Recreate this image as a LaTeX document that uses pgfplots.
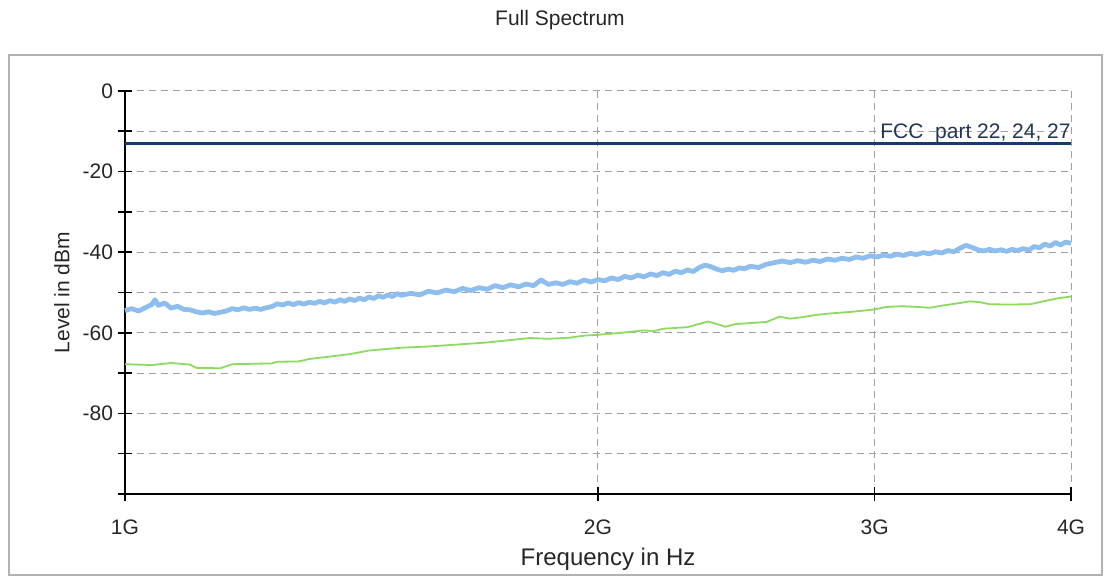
\documentclass[border=0pt]{standalone}
\usepackage{fontspec}
\setmainfont{Liberation Sans}
\usepackage{pgfplots}
\pgfplotsset{compat=1.18}

\definecolor{limitblue}{RGB}{20,60,108}
\definecolor{limittext}{RGB}{35,55,85}
\definecolor{peaktrace}{RGB}{142,190,238}
\definecolor{avgtrace}{RGB}{140,218,96}
\definecolor{framegray}{RGB}{178,178,178}
\definecolor{gridgray}{RGB}{160,160,160}

\begin{document}
\begin{tikzpicture}
% page area and outer frame
\path[use as bounding box] (0pt,0pt) rectangle (552pt,288pt);
\draw[framegray, line width=1pt] (4.5pt,0.5pt) rectangle (551pt,260.5pt);

\begin{axis}[
  at={(62.5pt,41pt)}, anchor=south west,
  scale only axis, width=473pt, height=201.5pt,
  xmode=log, xmin=1, xmax=4, ymin=-100, ymax=0,
  axis x line=bottom, axis y line=left,
  axis line style={-, black, line width=1pt},
  xtick={1,2,3,4}, xticklabels={1G,2G,3G,4G}, minor xtick={},
  ytick={-100,-90,...,0}, yticklabels={,,-80,,-60,,-40,,-20,,0},
  tick align=center, major tick length=7pt,
  tick style={black, line width=0.8pt},
  grid=major,
  major grid style={gridgray, line width=0.5pt, dash pattern=on 3.5pt off 2.5pt},
  tick label style={font=\fontsize{10.5}{12}\selectfont, text=black!85},
  xticklabel style={yshift=-6pt},
  yticklabel style={xshift=1pt},
  title={Full Spectrum},
  title style={at={(axis description cs:0.4598,1.1457)}, anchor=center,
    font=\fontsize{10.5}{12}\selectfont, text=black!85},
  xlabel={Frequency in Hz},
  xlabel style={at={(axis description cs:0.5106,-0.161)}, anchor=center,
    font=\fontsize{12}{14}\selectfont, text=black!85},
  ylabel={Level in dBm},
  ylabel style={at={(axis description cs:-0.0666,0.5)}, anchor=center,
    font=\fontsize{10.5}{12}\selectfont, text=black!85},
  clip=false,
]

% peak detector trace
\addplot[peaktrace, line width=2.4pt, line join=round] coordinates {
(1.00,-54.5) (1.01,-54.0) (1.02,-54.6) (1.03,-53.8) (1.04,-53.0) (1.045,-51.8)
(1.05,-53.2) (1.06,-52.6) (1.07,-53.9) (1.08,-53.4) (1.09,-54.2)
(1.10,-54.3) (1.11,-54.8) (1.12,-55.1) (1.13,-54.8) (1.14,-55.2) (1.15,-54.9)
(1.16,-54.6) (1.17,-54.0) (1.18,-54.3) (1.19,-53.8) (1.20,-54.2) (1.21,-53.9)
(1.22,-54.2) (1.23,-53.8) (1.24,-53.5) (1.25,-52.8) (1.26,-53.1) (1.27,-52.6)
(1.28,-53.0) (1.29,-52.5) (1.30,-52.9) (1.31,-52.4) (1.32,-52.7) (1.33,-52.2)
(1.34,-52.6) (1.35,-52.0) (1.36,-52.4) (1.37,-51.8) (1.38,-52.2) (1.39,-51.6)
(1.40,-52.0) (1.41,-51.4) (1.42,-51.8) (1.43,-51.1) (1.44,-51.5) (1.45,-50.8)
(1.46,-51.2) (1.47,-50.6) (1.48,-51.0) (1.49,-50.3) (1.50,-50.7)
(1.52,-50.2) (1.54,-50.6) (1.56,-49.7) (1.58,-50.1) (1.60,-49.4) (1.62,-49.8)
(1.64,-49.0) (1.66,-49.5) (1.68,-48.8) (1.70,-49.2) (1.72,-48.3) (1.74,-48.8)
(1.76,-48.1) (1.78,-48.6) (1.80,-47.9) (1.82,-48.3) (1.84,-46.9) (1.86,-48.0)
(1.88,-47.6) (1.90,-48.0) (1.92,-47.3) (1.94,-47.7) (1.96,-46.9) (1.98,-47.4)
(2.00,-46.8) (2.02,-47.1) (2.04,-46.4) (2.06,-46.8) (2.08,-46.0) (2.10,-46.4)
(2.12,-45.7) (2.14,-46.1) (2.16,-45.4) (2.18,-45.8) (2.20,-45.1) (2.22,-45.5)
(2.24,-44.7) (2.26,-45.1) (2.28,-44.4) (2.30,-44.8) (2.32,-43.8) (2.34,-43.2)
(2.36,-43.6) (2.38,-44.2) (2.40,-44.6) (2.42,-44.2) (2.44,-44.5) (2.46,-43.9)
(2.48,-44.1) (2.50,-43.5) (2.53,-43.8) (2.56,-43.0) (2.59,-42.6) (2.62,-42.2)
(2.65,-42.6) (2.68,-42.1) (2.71,-42.5) (2.74,-42.0) (2.77,-42.3) (2.80,-41.7)
(2.83,-42.0) (2.86,-41.5) (2.89,-41.8) (2.92,-41.2) (2.95,-41.5) (2.98,-40.9)
(3.01,-41.2) (3.04,-40.7) (3.07,-41.0) (3.10,-40.5) (3.13,-40.8) (3.16,-40.3)
(3.19,-40.6) (3.22,-40.1) (3.25,-40.4) (3.28,-39.9) (3.31,-40.2) (3.34,-39.6)
(3.37,-39.9) (3.40,-39.0) (3.43,-38.3) (3.46,-38.8) (3.49,-39.4) (3.52,-39.7)
(3.55,-39.3) (3.58,-39.7) (3.61,-39.4) (3.64,-39.8) (3.67,-39.3) (3.70,-39.6)
(3.73,-39.1) (3.76,-39.5) (3.79,-38.6) (3.82,-38.9) (3.85,-38.0) (3.88,-38.5)
(3.91,-37.6) (3.94,-38.2) (3.97,-37.5) (4.00,-37.8)
};

% average detector trace
\addplot[avgtrace, line width=0.9pt, line join=round] coordinates {
(1.00,-67.8) (1.04,-68.0) (1.07,-67.5) (1.10,-67.9) (1.11,-68.7) (1.15,-68.8)
(1.16,-68.3) (1.17,-67.8) (1.24,-67.6) (1.25,-67.2) (1.29,-67.1) (1.31,-66.5)
(1.35,-65.9) (1.39,-65.3) (1.43,-64.4) (1.50,-63.7) (1.56,-63.4) (1.63,-62.9)
(1.70,-62.4) (1.76,-61.8) (1.81,-61.3) (1.86,-61.5) (1.92,-61.2) (1.96,-60.7)
(2.00,-60.5) (2.07,-60.0) (2.14,-59.4) (2.17,-59.6) (2.20,-59.0) (2.28,-58.6)
(2.33,-57.6) (2.35,-57.2) (2.38,-57.8) (2.41,-58.5) (2.45,-57.8) (2.52,-57.5)
(2.56,-57.3) (2.61,-56.0) (2.65,-56.5) (2.70,-56.1) (2.75,-55.6) (2.81,-55.2)
(2.90,-54.8) (3.00,-54.2) (3.05,-53.6) (3.12,-53.4) (3.20,-53.6) (3.25,-53.8)
(3.32,-53.2) (3.40,-52.6) (3.45,-52.2) (3.50,-52.4) (3.55,-52.9) (3.65,-53.0)
(3.77,-52.9) (3.84,-52.2) (3.93,-51.4) (4.00,-51.0)
};

% limit line
\addplot[limitblue, line width=1.5pt] coordinates {(1,-13) (4,-13)};
\node[anchor=base east, inner sep=0pt, yshift=2.4pt, text=limittext,
  font=\fontsize{10.5}{12}\selectfont] at (axis cs:4,-13) {FCC~~part 22, 24, 27};

\end{axis}
\end{tikzpicture}
\end{document}
